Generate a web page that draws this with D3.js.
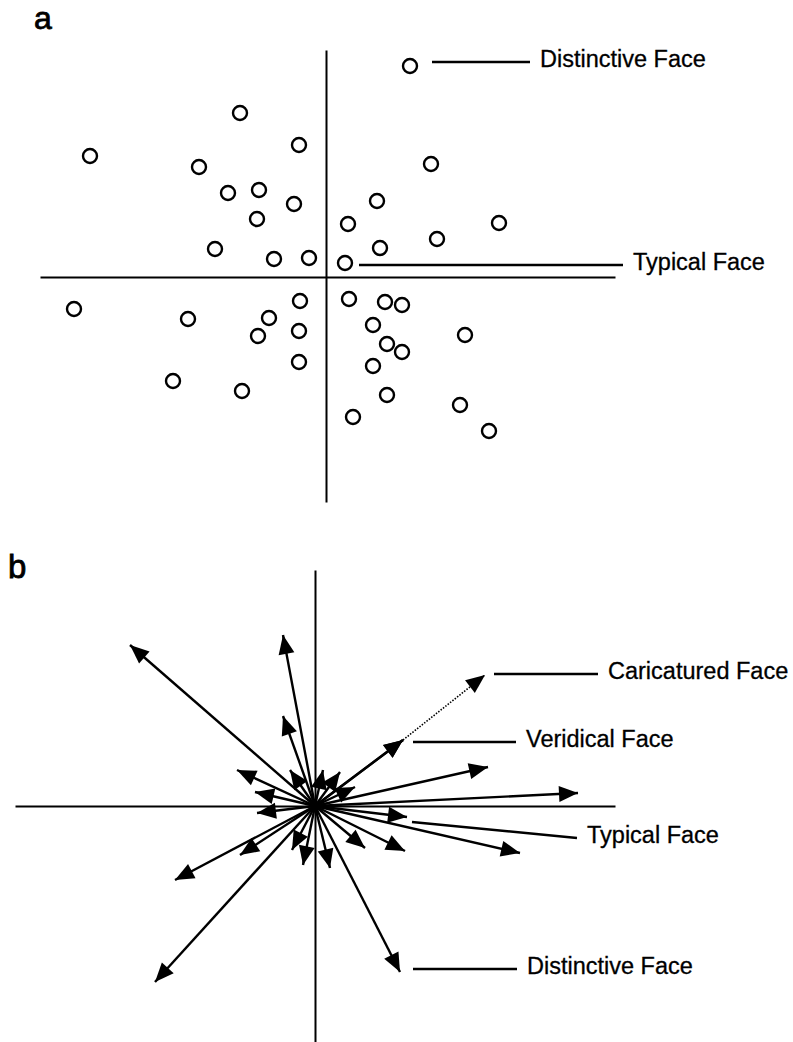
<!DOCTYPE html>
<html>
<head>
<meta charset="utf-8">
<script src="https://cdn.jsdelivr.net/npm/d3@7"></script>
<style>
  body { margin: 0; background: #fff; }
  text { font-family: "Liberation Sans", Arial, sans-serif; fill: #000; }
</style>
</head>
<body>
<div id="chart"></div>
<script>
// Panel a: face space points (x, y)
const facePointsX = [-23.6, -8.6, -2.7, -12.7, -9.8, -6.7, -3.2, -6.9, -11.1, -5.2,
  -1.7, 2.2, 5.1, 5.4, 1.9, 8.4, 10.5, 17.3, 11.1, -25.2,
  -13.8, -5.7, -6.8, -2.6, -2.7, -2.7, -15.3, -8.4, 2.3, 2.7,
  5.9, 7.6, 4.7, 6.1, 7.6, 4.7, 6.1, 13.9, 13.4, 16.3];
const facePointsY = [12.1, 16.4, 13.2, 11.0, 8.4, 8.7, 7.3, 5.8, 2.8, 1.8,
  1.9, 5.3, 7.6, 2.9, 1.4, 21.1, 11.3, 5.4, 3.8, -3.2,
  -4.2, -4.1, -5.9, -2.4, -5.4, -8.5, -10.4, -11.4, -2.2, -14.0,
  -2.5, -2.8, -4.8, -6.7, -7.5, -8.9, -11.8, -5.8, -12.8, -15.4];

// Panel b: face vectors (tips of arrows from the origin)
const vectorX = [-18.5, -3.2, -3.2, -7.8, -2.5, -6.0, 0.8, 2.5, 4.0, 8.8,
  17.3, 26.3, 9.2, 20.5, 9.0, 5.0, 8.5, 1.5, -1.2, -2.3,
  -7.5, -14.0, -16.0, -5.8];
const vectorY = [16.1, 17.1, 9.0, 3.6, 3.6, 1.4, 3.6, 3.4, 1.9, 6.6,
  3.9, 1.3, -1.1, -4.7, -4.5, -4.2, -16.6, -6.2, -5.9, -4.4,
  -4.9, -7.4, -17.6, -0.7];

// caricature = veridical vector pushed further out (dotted)
const veridical = [8.8, 6.6];
const caricature = [17.0, 13.1];

// axis extents
const aXExtent = [-28.6, 28.9];
const aYExtent = [-22.5, 22.7];
const bXExtent = [-30, 30];
const bYExtent = [-23.6, 23.6];

// labels: text, leader line start/end
const aLabels = ["Distinctive Face", "Typical Face"];
const aLeader = [[10.6, 21.5, 20.4, 21.5], [3.3, 1.2, 29.7, 1.2]];
const bLabels = ["Caricatured Face", "Veridical Face", "Typical Face", "Distinctive Face"];
const bLeader = [[17.9, 13.2, 28.3, 13.2], [9.8, 6.4, 20.1, 6.4],
  [9.7, -1.6, 26.2, -3.2], [9.8, -16.3, 20.2, -16.3]];

const width = 793, height = 1042;

const svg = d3.select("#chart").append("svg")
  .attr("width", width)
  .attr("height", height);

function crossAxes(g, x, y) {
  g.append("g")
    .attr("transform", `translate(0,${y(0)})`)
    .call(d3.axisBottom(x).tickValues([]).tickSizeOuter(0))
    .select(".domain").attr("stroke", "#000").attr("stroke-width", 2);
  g.append("g")
    .attr("transform", `translate(${x(0)},0)`)
    .call(d3.axisLeft(y).tickValues([]).tickSizeOuter(0))
    .select(".domain").attr("stroke", "#000").attr("stroke-width", 2);
}

function leaders(g, x, y, labels, lines) {
  lines.forEach((l, i) => {
    g.append("line")
      .attr("x1", x(l[0])).attr("y1", y(l[1]))
      .attr("x2", x(l[2])).attr("y2", y(l[3]))
      .attr("stroke", "#000").attr("stroke-width", 2.4);
    g.append("text")
      .attr("x", x(l[2]) + 10)
      .attr("y", y(l[3]))
      .attr("dy", "0.23em")
      .style("font-size", "23.5px")
      .style("stroke", "#000")
      .style("stroke-width", 0.3)
      .text(labels[i]);
  });
}

// ---- panel a ----
const xA = d3.scaleLinear().domain(aXExtent).range([40, 615]);
const yA = d3.scaleLinear().domain(aYExtent).range([502, 50]);
const gA = svg.append("g");

gA.append("text").attr("x", 34).attr("y", 29)
  .style("font-size", "32px")
  .style("stroke", "#000").style("stroke-width", 0.8)
  .text("a");

crossAxes(gA, xA, yA);
leaders(gA, xA, yA, aLabels, aLeader);

gA.selectAll("circle")
  .data(d3.range(facePointsX.length))
  .enter()
  .append("circle")
  .attr("cx", (i) => xA(facePointsX[i]))
  .attr("cy", (i) => yA(facePointsY[i]))
  .attr("r", 7)
  .attr("fill", "#fff")
  .attr("stroke", "#000")
  .attr("stroke-width", 2.4);

// ---- panel b ----
const xB = d3.scaleLinear().domain(bXExtent).range([15, 615]);
const yB = d3.scaleLinear().domain(bYExtent).range([1042, 570]);
const gB = svg.append("g");

gB.append("text").attr("x", 8).attr("y", 578)
  .style("font-size", "33px")
  .style("stroke", "#000").style("stroke-width", 0.8)
  .text("b");

crossAxes(gB, xB, yB);
leaders(gB, xB, yB, bLabels, bLeader);

const headLen = 19, headHalf = 8;

function arrowHead(g, x0, y0, x1, y1) {
  const dx = x1 - x0, dy = y1 - y0;
  const len = Math.sqrt(dx * dx + dy * dy);
  const ux = dx / len, uy = dy / len;
  const bx = x1 - ux * headLen, by = y1 - uy * headLen;
  const pts = [
    [x1, y1],
    [bx - uy * headHalf, by + ux * headHalf],
    [bx + uy * headHalf, by - ux * headHalf]
  ];
  g.append("path")
    .attr("d", d3.line()(pts) + "Z")
    .attr("fill", "#000");
}

const ox = xB(0), oy = yB(0);

// all vectors incl. veridical
const allX = vectorX.concat([veridical[0]]);
const allY = vectorY.concat([veridical[1]]);

allX.forEach((vx, i) => {
  const tx = xB(vx), ty = yB(allY[i]);
  gB.append("line")
    .attr("x1", ox).attr("y1", oy)
    .attr("x2", tx).attr("y2", ty)
    .attr("stroke", "#000").attr("stroke-width", 2.4);
  arrowHead(gB, ox, oy, tx, ty);
});

// dotted caricature extension
gB.append("line")
  .attr("x1", xB(veridical[0])).attr("y1", yB(veridical[1]))
  .attr("x2", xB(caricature[0])).attr("y2", yB(caricature[1]))
  .attr("stroke", "#000").attr("stroke-width", 1.6)
  .attr("stroke-dasharray", "1.5,1.5");
arrowHead(gB, ox, oy, xB(caricature[0]), yB(caricature[1]));
</script>
</body>
</html>
